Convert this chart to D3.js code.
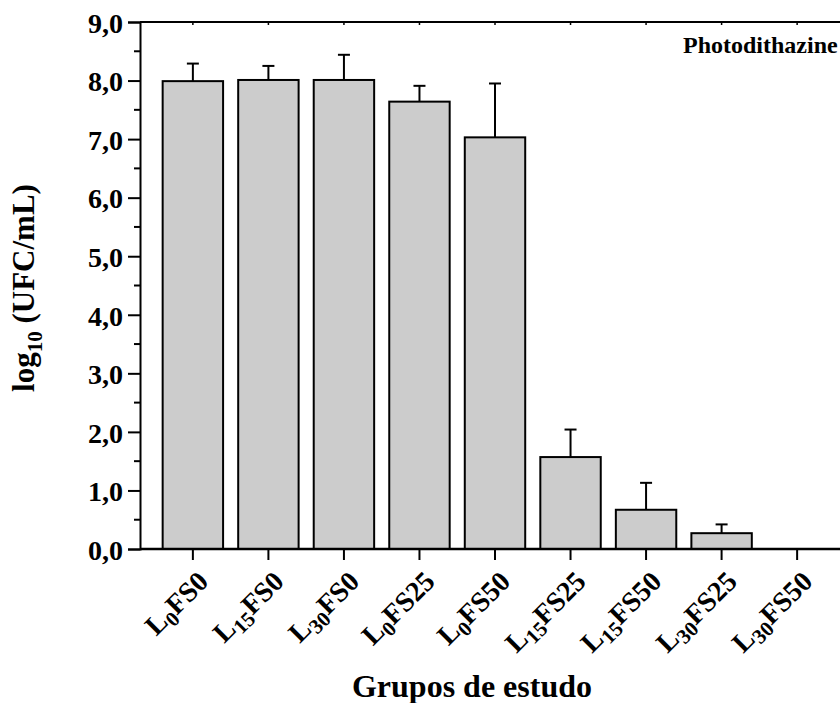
<!DOCTYPE html>
<html>
<head>
<meta charset="utf-8">
<script src="https://cdn.jsdelivr.net/npm/d3@7"></script>
<style>
  body { margin: 0; background: #fff; }
  svg { display: block; }
  svg text { font-family: "Liberation Serif", "DejaVu Serif", serif; font-weight: bold; }
</style>
</head>
<body>
<svg id="chart" width="840" height="703"></svg>
<script>
// data
const lightDose = ["0", "15", "30", "0", "0", "15", "15", "30", "30"];
const fsDose = ["0", "0", "0", "25", "50", "25", "50", "25", "50"];
const meanLog = [7.99, 8.01, 8.01, 7.64, 7.03, 1.57, 0.67, 0.27, 0];
const sdLog = [0.30, 0.24, 0.43, 0.27, 0.92, 0.47, 0.46, 0.15, 0];
const yTicks = [0, 1, 2, 3, 4, 5, 6, 7, 8, 9];
const yTickLabels = ["0,0", "1,0", "2,0", "3,0", "4,0", "5,0", "6,0", "7,0", "8,0", "9,0"];
const seriesName = "Photodithazine";

const svg = d3.select("#chart");

let x0 = 140, x1 = 850, yTop = 22, yBot = 549;
let groups = lightDose.map((d, i) => "L" + d + "FS" + fsDose[i]);
let data = groups.map((g, i) => ({ key: g, light: lightDose[i], fs: fsDose[i], value: meanLog[i], err: sdLog[i] }));

let x = d3.scaleBand()
  .domain(groups)
  .range([x0, x1])
  .paddingInner(0.2)
  .paddingOuter(0.3);

let y = d3.scaleLinear()
  .domain([0, 9])
  .range([yBot, yTop]);

// bars
svg.append("g").selectAll("rect")
  .data(data.filter(d => d.value > 0))
  .enter().append("rect")
    .attr("x", d => x(d.key))
    .attr("y", d => y(d.value))
    .attr("width", x.bandwidth())
    .attr("height", d => y(0) - y(d.value))
    .attr("fill", "#cccccc")
    .attr("stroke", "#000")
    .attr("stroke-width", 2);

// error bars (upper only)
let eb = svg.append("g").selectAll("g")
  .data(data.filter(d => d.err > 0))
  .enter().append("g");
eb.append("line")
  .attr("x1", d => x(d.key) + x.bandwidth() / 2)
  .attr("x2", d => x(d.key) + x.bandwidth() / 2)
  .attr("y1", d => y(d.value))
  .attr("y2", d => y(d.value + d.err))
  .attr("stroke", "#000").attr("stroke-width", 2);
eb.append("line")
  .attr("x1", d => x(d.key) + x.bandwidth() / 2 - 6)
  .attr("x2", d => x(d.key) + x.bandwidth() / 2 + 6)
  .attr("y1", d => y(d.value + d.err))
  .attr("y2", d => y(d.value + d.err))
  .attr("stroke", "#000").attr("stroke-width", 2);

// left axis
let yAxis = d3.axisLeft(y)
  .tickValues(yTicks)
  .tickSize(12)
  .tickFormat((d, i) => yTickLabels[i]);
let gy = svg.append("g")
  .attr("transform", "translate(" + x0 + ",0)")
  .call(yAxis);
gy.attr("font-family", null).attr("font-size", null);
gy.select(".domain").attr("stroke-width", 2);
gy.selectAll(".tick line").attr("stroke-width", 2);
gy.selectAll(".tick text")
  .attr("x", -17)
  .attr("dy", "0.38em")
  .style("font-size", "27px")
  .attr("textLength", 35)
  .attr("lengthAdjust", "spacingAndGlyphs")
  .attr("fill", "#000");

// minor ticks
let minor = d3.range(0.5, 9, 1);
svg.append("g").selectAll("line")
  .data(minor)
  .enter().append("line")
    .attr("x1", x0 - 6).attr("x2", x0)
    .attr("y1", d => y(d)).attr("y2", d => y(d))
    .attr("stroke", "#000").attr("stroke-width", 2);

// bottom axis
let xAxis = d3.axisBottom(x).tickSize(11).tickFormat("");
let gx = svg.append("g")
  .attr("transform", "translate(0," + yBot + ")")
  .call(xAxis);
gx.select(".domain").attr("d", "M" + x0 + ",0H" + x1).attr("stroke-width", 2.5);
gx.selectAll(".tick line").attr("stroke-width", 2);

// top frame with small inward ticks
svg.append("line")
  .attr("x1", x0).attr("x2", x1).attr("y1", yTop).attr("y2", yTop)
  .attr("stroke", "#000").attr("stroke-width", 2);
svg.append("line")
  .attr("x1", x1).attr("x2", x1).attr("y1", yTop).attr("y2", yBot)
  .attr("stroke", "#000").attr("stroke-width", 2);
svg.append("g").selectAll("line")
  .data(groups)
  .enter().append("line")
    .attr("x1", d => x(d) + x.bandwidth() / 2)
    .attr("x2", d => x(d) + x.bandwidth() / 2)
    .attr("y1", yTop).attr("y2", yTop + 3)
    .attr("stroke", "#000").attr("stroke-width", 1.5);

// x tick labels, rotated, with subscripts
let labs = svg.append("g").selectAll("text")
  .data(data)
  .enter().append("text")
    .attr("transform", d => "translate(" + (x(d.key) + x.bandwidth() / 2 + 17) + ",583) rotate(-45)")
    .attr("text-anchor", "end")
    .style("font-size", "28px");
labs.append("tspan").text("L");
labs.append("tspan").style("font-size", "21px").attr("dy", 6).text(d => d.light);
labs.append("tspan").attr("dy", -6).text(d => "FS" + d.fs);

// axis titles
let yt = svg.append("text")
  .attr("transform", "translate(34,288) rotate(-90)")
  .attr("text-anchor", "middle")
  .style("font-size", "31px");
yt.append("tspan").text("log");
yt.append("tspan").style("font-size", "21px").attr("dy", 8).text("10");
yt.append("tspan").attr("dy", -8).text(" (UFC/mL)");

svg.append("text")
  .attr("x", 472).attr("y", 697)
  .attr("text-anchor", "middle")
  .style("font-size", "32px")
  .text("Grupos de estudo");

// series label
svg.append("text")
  .attr("x", 683).attr("y", 53)
  .style("font-size", "24px")
  .text(seriesName);
</script>
</body>
</html>
